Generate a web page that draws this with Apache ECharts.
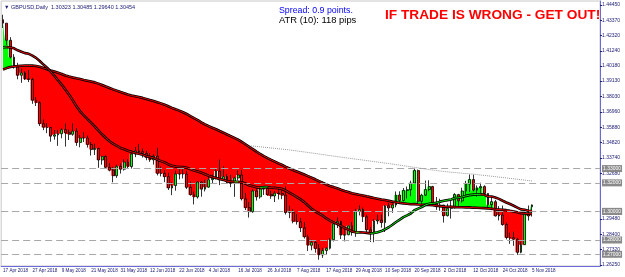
<!DOCTYPE html>
<html><head><meta charset="utf-8">
<script src="https://cdn.jsdelivr.net/npm/echarts@6/dist/echarts.min.js"></script>
<style>html,body{margin:0;padding:0;background:#fff}#c{width:625px;height:277px}</style>
</head><body><div id="c"></div>
<script>
// ---- categories (trading days) ----
const dates = [
"17 Apr 2018","18 Apr 2018","19 Apr 2018","20 Apr 2018","23 Apr 2018","24 Apr 2018","25 Apr 2018","26 Apr 2018","27 Apr 2018","30 Apr 2018",
"1 May 2018","2 May 2018","3 May 2018","4 May 2018","7 May 2018","8 May 2018","9 May 2018","10 May 2018","11 May 2018","14 May 2018","15 May 2018","16 May 2018","17 May 2018","18 May 2018","21 May 2018","22 May 2018","23 May 2018","24 May 2018","25 May 2018","28 May 2018","29 May 2018","30 May 2018","31 May 2018",
"1 Jun 2018","4 Jun 2018","5 Jun 2018","6 Jun 2018","7 Jun 2018","8 Jun 2018","11 Jun 2018","12 Jun 2018","13 Jun 2018","14 Jun 2018","15 Jun 2018","18 Jun 2018","19 Jun 2018","20 Jun 2018","21 Jun 2018","22 Jun 2018","25 Jun 2018","26 Jun 2018","27 Jun 2018","28 Jun 2018","29 Jun 2018",
"2 Jul 2018","3 Jul 2018","4 Jul 2018","5 Jul 2018","6 Jul 2018","9 Jul 2018","10 Jul 2018","11 Jul 2018","12 Jul 2018","13 Jul 2018","16 Jul 2018","17 Jul 2018","18 Jul 2018","19 Jul 2018","20 Jul 2018","23 Jul 2018","24 Jul 2018","25 Jul 2018","26 Jul 2018","27 Jul 2018","30 Jul 2018","31 Jul 2018",
"1 Aug 2018","2 Aug 2018","3 Aug 2018","6 Aug 2018","7 Aug 2018","8 Aug 2018","9 Aug 2018","10 Aug 2018","13 Aug 2018","14 Aug 2018","15 Aug 2018","16 Aug 2018","17 Aug 2018","20 Aug 2018","21 Aug 2018","22 Aug 2018","23 Aug 2018","24 Aug 2018","27 Aug 2018","28 Aug 2018","29 Aug 2018","30 Aug 2018","31 Aug 2018",
"3 Sep 2018","4 Sep 2018","5 Sep 2018","6 Sep 2018","7 Sep 2018","10 Sep 2018","11 Sep 2018","12 Sep 2018","13 Sep 2018","14 Sep 2018","17 Sep 2018","18 Sep 2018","19 Sep 2018","20 Sep 2018","21 Sep 2018","24 Sep 2018","25 Sep 2018","26 Sep 2018","27 Sep 2018","28 Sep 2018",
"1 Oct 2018","2 Oct 2018","3 Oct 2018","4 Oct 2018","5 Oct 2018","8 Oct 2018","9 Oct 2018","10 Oct 2018","11 Oct 2018","12 Oct 2018","15 Oct 2018","16 Oct 2018","17 Oct 2018","18 Oct 2018","19 Oct 2018","22 Oct 2018","23 Oct 2018","24 Oct 2018","25 Oct 2018","26 Oct 2018","29 Oct 2018","30 Oct 2018","31 Oct 2018",
"1 Nov 2018","2 Nov 2018","5 Nov 2018"];
const emptySlots = 18; // right-side chart shift, no bars

// ---- OHLC ----
const opens = [
1.4342,1.4318,1.4198,1.4080,1.4012,1.3953,1.3970,1.3927,1.3924,1.3778,
1.3761,1.3614,1.3590,1.3587,1.3527,1.3536,1.3544,1.3572,1.3550,1.3540,1.3562,1.3483,1.3514,1.3514,1.3469,1.3433,1.3441,1.3360,1.3385,1.3309,1.3289,1.3250,1.3316,
1.3296,1.3345,1.3314,1.3402,1.3423,1.3418,1.3406,1.3378,1.3361,1.3387,1.3267,1.3266,1.3243,1.3164,1.3181,1.3262,1.3262,1.3262,1.3169,1.3117,1.3101,
1.3206,1.3156,1.3170,1.3222,1.3233,1.3283,1.3220,1.3244,1.3207,1.3197,1.3234,1.3255,1.3088,1.3026,1.2998,1.3143,1.3102,1.3156,1.3161,1.3117,1.3108,1.3128,
1.3125,1.3114,1.2993,1.2994,1.2931,1.2927,1.2885,1.2822,1.2763,1.2784,1.2740,1.2695,1.2726,1.2742,1.2802,1.2913,1.2930,1.2834,1.2837,1.2899,1.2855,1.2999,1.3014,
1.2962,1.2871,1.2849,1.2933,1.2939,1.2922,1.3039,1.3024,1.3045,1.3115,1.3077,1.3147,1.3152,1.3199,1.3286,1.3071,1.3114,1.3153,1.3174,1.3057,
1.3033,1.3045,1.2970,1.3022,1.3035,1.3118,1.3074,1.3143,1.3192,1.3223,1.3149,1.3165,1.3174,1.3126,1.3047,1.3068,1.2968,1.2975,1.2908,1.2817,1.2816,1.2805,1.2714,
1.2767,1.2991,1.30323];
const highs = [
1.4377,1.4318,1.4220,1.4101,1.4040,1.4000,1.3982,1.3990,1.3935,1.3800,
1.3770,1.3644,1.3618,1.3592,1.3570,1.3570,1.3582,1.3617,1.3572,1.3617,1.3584,1.3536,1.3555,1.3531,1.3486,1.3474,1.3446,1.3390,1.3392,1.3340,1.3312,1.3327,1.3336,
1.3365,1.3365,1.3415,1.3451,1.3473,1.3441,1.3424,1.3409,1.3401,1.3446,1.3314,1.3288,1.3271,1.3205,1.3285,1.3315,1.3306,1.3285,1.3210,1.3138,1.3212,
1.3212,1.3221,1.3243,1.3260,1.3300,1.3363,1.3316,1.3260,1.3256,1.3243,1.3288,1.3290,1.3130,1.3065,1.3156,1.3175,1.3169,1.3163,1.3173,1.3145,1.3143,1.3165,
1.3150,1.3175,1.3040,1.3017,1.2981,1.2955,1.2925,1.2837,1.2802,1.2798,1.2770,1.2745,1.2750,1.2814,1.2925,1.2958,1.2935,1.2875,1.2900,1.2926,1.3018,1.3043,1.3027,
1.2977,1.2892,1.2947,1.2977,1.2978,1.3045,1.3061,1.3057,1.3140,1.3141,1.3164,1.3175,1.3215,1.3298,1.3293,1.3124,1.3216,1.3218,1.3179,1.3101,
1.3089,1.3045,1.3054,1.3073,1.3128,1.3123,1.3166,1.3214,1.3258,1.3257,1.3182,1.3201,1.3183,1.3128,1.3104,1.3081,1.3037,1.3041,1.2923,1.2852,1.2858,1.2815,1.2788,
1.3007,1.3042,1.30485];
const lows = [
1.4284,1.4165,1.4070,1.4000,1.3925,1.3900,1.3920,1.3905,1.3753,1.3738,
1.3598,1.3569,1.3548,1.3488,1.3502,1.3459,1.3512,1.3454,1.3500,1.3530,1.3459,1.3449,1.3486,1.3447,1.3391,1.3395,1.3305,1.3327,1.3298,1.3281,1.3204,1.3235,1.3265,
1.3286,1.3297,1.3300,1.3380,1.3405,1.3377,1.3358,1.3347,1.3328,1.3252,1.3245,1.3205,1.3150,1.3114,1.3145,1.3225,1.3231,1.3157,1.3111,1.3049,1.3090,
1.3103,1.3140,1.3166,1.3196,1.3224,1.3184,1.3213,1.3195,1.3170,1.3102,1.3217,1.3077,1.3010,1.2957,1.2991,1.3076,1.3089,1.3115,1.3110,1.3088,1.3066,1.3084,
1.3086,1.2978,1.2953,1.2917,1.2908,1.2856,1.2810,1.2723,1.2728,1.2711,1.2662,1.2675,1.2696,1.2733,1.2790,1.2884,1.2807,1.2790,1.2833,1.2830,1.2822,1.2972,1.2926,
1.2851,1.2786,1.2784,1.2911,1.2887,1.2856,1.2966,1.2990,1.3029,1.3062,1.3070,1.3090,1.3107,1.3196,1.3049,1.3039,1.3107,1.3142,1.3047,1.3011,
1.3005,1.2922,1.2965,1.2950,1.3020,1.3030,1.3062,1.3103,1.3136,1.3139,1.3103,1.3119,1.3110,1.3026,1.3009,1.2965,1.2937,1.2900,1.2804,1.2773,1.2759,1.2696,1.2707,
1.2765,1.2936,1.29640];
const closes = [
1.4318,1.4198,1.4080,1.4012,1.3953,1.3970,1.3927,1.3924,1.3778,1.3761,
1.3614,1.3590,1.3587,1.3527,1.3536,1.3544,1.3572,1.3550,1.3540,1.3562,1.3483,1.3514,1.3514,1.3469,1.3433,1.3441,1.3360,1.3385,1.3309,1.3289,1.3250,1.3316,1.3296,
1.3345,1.3314,1.3402,1.3423,1.3418,1.3406,1.3378,1.3361,1.3387,1.3267,1.3266,1.3243,1.3164,1.3181,1.3262,1.3262,1.3262,1.3169,1.3117,1.3101,1.3206,
1.3156,1.3170,1.3222,1.3233,1.3283,1.3220,1.3244,1.3207,1.3197,1.3234,1.3255,1.3088,1.3026,1.2998,1.3143,1.3102,1.3156,1.3161,1.3117,1.3108,1.3128,1.3125,
1.3114,1.2993,1.2994,1.2931,1.2927,1.2885,1.2822,1.2763,1.2784,1.2740,1.2695,1.2726,1.2742,1.2802,1.2913,1.2930,1.2834,1.2837,1.2899,1.2855,1.2999,1.3014,1.2962,
1.2871,1.2849,1.2933,1.2939,1.2922,1.3039,1.3024,1.3045,1.3115,1.3077,1.3147,1.3152,1.3199,1.3286,1.3071,1.3114,1.3153,1.3174,1.3057,1.3033,
1.3045,1.2970,1.3022,1.3035,1.3118,1.3074,1.3143,1.3192,1.3223,1.3149,1.3165,1.3174,1.3126,1.3047,1.3068,1.2968,1.2975,1.2908,1.2817,1.2816,1.2805,1.2714,1.2767,
1.2991,1.2968,1.30454];
// closes before the visible window (Jan 2 - Apr 16 2018), needed by the moving averages
const priorCloses = [
1.3589,1.3514,1.3551,1.3568,1.3572,1.3537,1.3520,1.3537,1.3720,1.3787,1.3791,1.3829,1.3905,1.3856,1.3907,1.3997,1.4250,1.4151,1.4153,1.4035,1.4126,1.4191,1.4268,1.4116,
1.3963,1.3933,1.3891,1.3923,1.3828,1.3827,1.3886,1.3968,1.4083,1.4025,1.3992,1.3966,1.3909,1.3950,1.3968,1.3975,1.3906,1.3767,
1.3788,1.3815,1.3877,1.3902,1.3895,1.3827,1.3852,1.3879,1.3961,1.3961,1.3941,1.3930,1.4029,1.4017,1.4143,1.4148,1.4136,1.4235,1.4162,1.4127,1.4016,1.4031,
1.4077,1.4061,1.4084,1.4016,1.4087,1.4124,1.4187,1.4184,1.4237,1.4256,1.4342];
const fastPeriod = 20;
const slowPeriod = 70;
// long (200) MA at a few bars
const ma200Idx = [67, 78, 92, 105, 119, 130, 144];
const ma200Val = [1.3460, 1.3430, 1.3380, 1.3335, 1.3283, 1.3255, 1.3213];
// horizontal levels (dashed) and their price tags
const levelValues = [1.32977, 1.31570, 1.30454, 1.30100, 1.27790, 1.26600];
// price-axis tick labels
const yTicks = [1.44450,1.43370,1.42320,1.41240,1.40180,1.39130,1.38030,1.36960,1.35880,1.34820,1.33740,1.32680,1.29480,1.28400,1.27320,1.26250];
const headerText = "\u25BC GBPUSD,Daily  1.30323 1.30485 1.29640 1.30454";
const spreadText = "Spread: 0.9 points.";
const atrText = "ATR (10): 118 pips";
const warnText = "IF TRADE IS WRONG - GET OUT!";

// ---- derived ----
const n = closes.length;
const all = priorCloses.concat(closes);
function sma(p){
  return closes.map((_, i) => {
    const j = i + priorCloses.length; let s = 0;
    for (let k = j - p + 1; k <= j; k++) s += all[k];
    return s / p;
  });
}
const fast = sma(fastPeriod), slow = sma(slowPeriod);
const base = closes.map((c,i) => Math.min(c, slow[i]));
const redBand = closes.map((c,i) => c < slow[i] ? slow[i]-c : 0);
const greenBand = closes.map((c,i) => c > slow[i] ? c-slow[i] : 0);
const fastDown = new Array(n).fill(null), fastUp = new Array(n).fill(null);
for (let i = 1; i < n; i++){
  const t = fast[i] < fast[i-1] ? fastDown : fastUp;
  t[i-1] = fast[i-1]; t[i] = fast[i];
}
const ma200 = new Array(n).fill(null);
ma200Idx.forEach((ix,k) => { ma200[ix] = ma200Val[k]; });
const cats = dates.concat(new Array(emptySlots).fill(''));
const candles = closes.map((c,i) => [opens[i], c, lows[i], highs[i]]);

const axisCol = '#6a6ad8', txtCol = '#20207a';
const chart = echarts.init(document.getElementById('c'), null, {renderer:'canvas'});
chart.setOption({
  animation: false,
  backgroundColor: '#ffffff',
  textStyle: {fontFamily: 'Liberation Sans, Arial, sans-serif'},
  grid: {left: 1, right: 25, top: 1, bottom: 11, show: true, borderColor: '#c8c8c8', borderWidth: 1},
  xAxis: {
    type: 'category', data: cats, boundaryGap: true,
    axisLine: {lineStyle: {color: axisCol}},
    axisTick: {interval: 7, alignWithLabel: true, length: 2, lineStyle: {color: txtCol}},
    axisLabel: {interval: 7, align: 'left', margin: 2, fontSize: 4.6, color: txtCol},
    splitLine: {show: false}
  },
  yAxis: {
    type: 'value', position: 'right', min: 1.2618, max: 1.4473, scale: true,
    axisLine: {show: true, lineStyle: {color: axisCol}},
    axisTick: {show: true, customValues: yTicks, length: 2, lineStyle: {color: txtCol}},
    axisLabel: {customValues: yTicks, formatter: v => v.toFixed(5), fontSize: 5, color: txtCol, margin: 2},
    splitLine: {show: false}
  },
  graphic: [
    {type:'text', left: 4, top: 4, style:{text: headerText, fontSize: 5.5, fill: txtCol, fontFamily:'Liberation Sans'}},
    {type:'text', left: 279, top: 6, style:{text: spreadText, fontSize: 8.8, fill: '#0000ff', fontFamily:'Liberation Sans'}},
    {type:'text', left: 279, top: 16, style:{text: atrText, fontSize: 9.4, fill: '#000000', fontFamily:'Liberation Sans'}},
    {type:'text', left: 385, top: 8, style:{text: warnText, fontSize: 13.7, fontWeight: 'bold', fill: '#ff0000', fontFamily:'Liberation Sans'}}
  ],
  series: [
    {name:'ma200', type:'line', data: ma200, connectNulls: true, smooth: 0.3, symbol:'none', z: 1,
     lineStyle:{color:'#9a9a9a', width:1, type:'dotted'},
     markLine: {symbol:'none', silent: true,
       lineStyle:{color:'#a8a8a8', width:1, type:[7,4]},
       label:{position:'end', formatter: p => p.value.toFixed(5), backgroundColor:'#8a8a8a', color:'#ffffff', fontSize:5, padding:[1,1], distance: 2},
       data: levelValues.map(v => ({yAxis: v}))}},
    {name:'base', type:'line', data: base, stack:'fill', step:'middle', symbol:'none', z: 2, lineStyle:{width:0, opacity:0}},
    {name:'red', type:'line', data: redBand, stack:'fill', step:'middle', symbol:'none', z: 2, lineStyle:{width:0, opacity:0}, areaStyle:{color:'#ff0000', opacity:1}},
    {name:'green', type:'line', data: greenBand, stack:'fill', step:'middle', symbol:'none', z: 2, lineStyle:{width:0, opacity:0}, areaStyle:{color:'#00ff00', opacity:1}},
    {name:'candles', type:'candlestick', data: candles, z: 3, barWidth: '62%',
     itemStyle:{color:'#00ff00', color0:'#ff0000', borderColor:'#000000', borderColor0:'#000000', borderWidth: 0.8}},
    {name:'slowEdge', type:'line', data: slow, symbol:'none', z: 4, lineStyle:{color:'#000000', width:2.6}},
    {name:'slowCore', type:'line', data: slow, symbol:'none', z: 4, lineStyle:{color:'#ff0000', width:0.9}},
    {name:'fastEdge', type:'line', data: fast, symbol:'none', z: 4, lineStyle:{color:'#000000', width:2.6}},
    {name:'fastDown', type:'line', data: fastDown, symbol:'none', z: 5, lineStyle:{color:'#ff0000', width:0.9}},
    {name:'fastUp', type:'line', data: fastUp, symbol:'none', z: 5, lineStyle:{color:'#00ff00', width:0.9}}
  ]
});
</script></body></html>
